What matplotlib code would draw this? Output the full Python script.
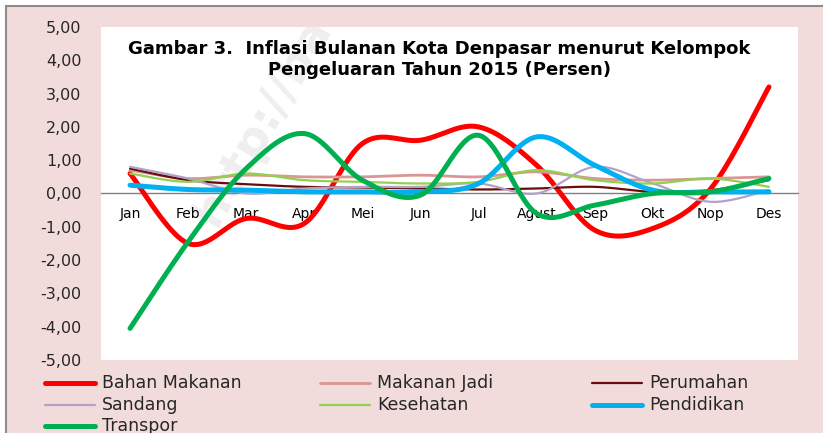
import numpy as np
import matplotlib.pyplot as plt
from matplotlib.patches import Rectangle
from matplotlib.lines import Line2D

bulan = ['Jan', 'Feb', 'Mar', 'Apr', 'Mei', 'Jun', 'Jul', 'Agust', 'Sep', 'Okt', 'Nop', 'Des']

bahan_makanan = [0.60, -1.50, -0.75, -0.90, 1.50, 1.60, 2.00, 0.85, -1.10, -1.05, 0.15, 3.20]
makanan_jadi = [0.70, 0.45, 0.55, 0.50, 0.50, 0.55, 0.50, 0.65, 0.45, 0.40, 0.45, 0.50]
perumahan = [0.75, 0.40, 0.28, 0.20, 0.18, 0.15, 0.12, 0.15, 0.20, 0.05, 0.10, 0.40]
sandang = [0.80, 0.45, 0.00, 0.15, 0.20, 0.20, 0.30, 0.00, 0.80, 0.30, -0.25, 0.10]
kesehatan = [0.60, 0.35, 0.60, 0.40, 0.35, 0.30, 0.35, 0.70, 0.40, 0.30, 0.45, 0.20]
pendidikan = [0.25, 0.12, 0.10, 0.05, 0.05, 0.05, 0.30, 1.70, 0.85, 0.10, 0.05, 0.05]
transpor = [-4.05, -1.45, 0.75, 1.80, 0.40, -0.05, 1.75, -0.60, -0.35, 0.00, 0.05, 0.45]

series = [
    ('Bahan Makanan', bahan_makanan, '#FF0000', 3.6),
    ('Makanan Jadi', makanan_jadi, '#D99694', 2.0),
    ('Perumahan', perumahan, '#6B0C0C', 1.6),
    ('Sandang', sandang, '#B3A2C7', 1.6),
    ('Kesehatan', kesehatan, '#92D050', 1.6),
    ('Pendidikan', pendidikan, '#00B0F0', 3.6),
    ('Transpor', transpor, '#00B050', 3.6),
]


def smooth(x, y, n=20):
    # garis halus ala Excel (bezier / catmull-rom)
    x = np.asarray(x, float)
    y = np.asarray(y, float)
    px = np.concatenate([[x[0]], x, [x[-1]]])
    py = np.concatenate([[y[0]], y, [y[-1]]])
    xs, ys = [], []
    t = np.linspace(0, 1, n)
    for i in range(1, len(px) - 2):
        p0 = np.array([px[i], py[i]])
        p3 = np.array([px[i + 1], py[i + 1]])
        p1 = p0 + (np.array([px[i + 1], py[i + 1]]) - np.array([px[i - 1], py[i - 1]])) / 6
        p2 = p3 - (np.array([px[i + 2], py[i + 2]]) - np.array([px[i], py[i]])) / 6
        b = ((1 - t) ** 3)[:, None] * p0 + (3 * (1 - t) ** 2 * t)[:, None] * p1 \
            + (3 * (1 - t) * t ** 2)[:, None] * p2 + (t ** 3)[:, None] * p3
        xs.extend(b[:, 0])
        ys.extend(b[:, 1])
    return xs, ys


plt.rcParams['font.family'] = ['DejaVu Sans']

W, H = 823, 433
fig = plt.figure(figsize=(W / 100, H / 100), dpi=100)
fig.patch.set_facecolor('white')

bg = fig.add_axes([0, 0, 1, 1], zorder=0)
bg.set_xlim(0, W)
bg.set_ylim(H, 0)
bg.axis('off')
bg.add_patch(Rectangle((6, 6), W, H, facecolor='#F2DCDB', edgecolor='#8C8C8C', lw=1.5))

ax = fig.add_axes([101 / W, (H - 360) / H, 697 / W, 333 / H], zorder=2)
ax.set_facecolor('white')

x = np.arange(len(bulan))
for nama, vals, warna, lw in series:
    sx, sy = smooth(x, vals)
    ax.plot(sx, sy, color=warna, lw=lw, label=nama, solid_capstyle='round', zorder=3)

ax.set_xlim(-0.5, len(bulan) - 0.5)
ax.set_ylim(-5, 5)
ax.set_yticks(np.arange(-5, 6, 1))
ax.set_yticklabels([f'{v:.2f}'.replace('.', ',') for v in np.arange(-5, 6, 1)], fontsize=11.5, color='#262626')
ax.tick_params(axis='y', length=0, pad=14)
ax.set_xticks(x)
ax.set_xticklabels(bulan, fontsize=11.5, color='#262626')
ax.tick_params(axis='x', length=0, pad=10)
for s in ['top', 'right', 'left']:
    ax.spines[s].set_visible(False)
ax.spines['bottom'].set_position(('data', 0))
ax.spines['bottom'].set_color('#808080')
ax.spines['bottom'].set_linewidth(1)

ax.text(0.485, 0.96, 'Gambar 3.  Inflasi Bulanan Kota Denpasar menurut Kelompok\nPengeluaran Tahun 2015 (Persen)',
        transform=ax.transAxes, ha='center', va='top', fontsize=13, fontweight='bold',
        linespacing=1.2, color='black', zorder=5)

# watermark di dalam area plot
ax.text(205, 222, 'http://bali.bps.go.id', transform=bg.transData, rotation=60, rotation_mode='anchor',
        fontsize=34, fontweight='bold', color='#E4E4E4', alpha=0.6, ha='left', va='center',
        zorder=1, clip_on=True)

# legenda manual, 3 kolom
kol_x = [43, 318, 590]
baris_y = [383, 405, 426]
for i, (nama, vals, warna, lw) in enumerate(series):
    r, c = divmod(i, 3)
    x0 = kol_x[c]
    yy = baris_y[r]
    bg.add_line(Line2D([x0 + 2, x0 + 52], [yy, yy], color=warna, lw=lw, solid_capstyle='round'))
    bg.text(x0 + 59, yy, nama, fontsize=12.5, color='#262626', va='center', ha='left')

fig.savefig('out.png', dpi=100)
